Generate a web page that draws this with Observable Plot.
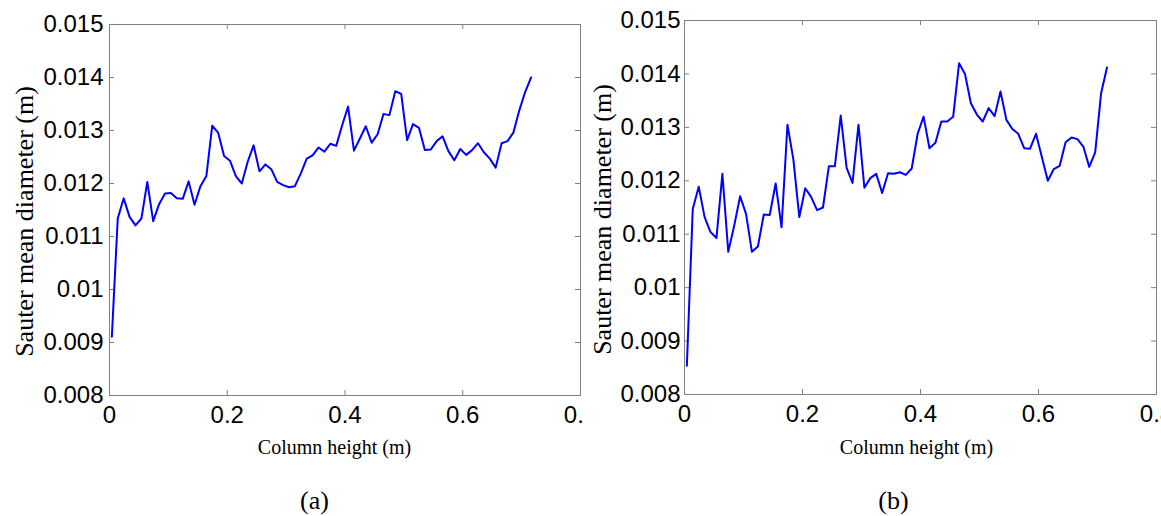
<!DOCTYPE html>
<html><head><meta charset="utf-8">
<script src="https://cdn.jsdelivr.net/npm/d3@7"></script>
<script src="https://cdn.jsdelivr.net/npm/@observablehq/plot@0.6"></script>
<style>
html,body{margin:0;padding:0;background:#fff;}
#wrap{display:flex;width:1161px;height:516px;overflow:hidden;background:#fff;}
#wrap svg{overflow:hidden;display:block;flex:none;max-width:none;}
</style></head><body><div id="wrap"></div>
<script>
// Column height (m) of each sample
const heights = [0.0040,0.0140,0.0241,0.0341,0.0441,0.0542,0.0642,0.0742,0.0842,0.0943,
0.1043,0.1143,0.1244,0.1344,0.1444,0.1545,0.1645,0.1745,0.1845,0.1946,
0.2046,0.2146,0.2247,0.2347,0.2447,0.2548,0.2648,0.2748,0.2848,0.2949,
0.3049,0.3149,0.3250,0.3350,0.3450,0.3551,0.3651,0.3751,0.3851,0.3952,
0.4052,0.4152,0.4253,0.4353,0.4453,0.4554,0.4654,0.4754,0.4854,0.4955,
0.5055,0.5155,0.5256,0.5356,0.5456,0.5557,0.5657,0.5757,0.5857,0.5958,
0.6058,0.6158,0.6259,0.6359,0.6459,0.6560,0.6660,0.6760,0.6860,0.6961,
0.7061,0.7161];
// Sauter mean diameter (m), panel (a)
const diameterA = [0.00911,0.01134,0.01172,0.01137,0.01121,0.01134,0.01203,0.01129,0.01161,0.01181,
0.01182,0.01172,0.01171,0.01204,0.01160,0.01195,0.01214,0.01309,0.01296,0.01252,
0.01243,0.01214,0.01200,0.01241,0.01272,0.01223,0.01236,0.01227,0.01203,0.01197,
0.01193,0.01195,0.01219,0.01247,0.01253,0.01268,0.01260,0.01275,0.01271,0.01310,
0.01345,0.01262,0.01285,0.01308,0.01277,0.01293,0.01331,0.01329,0.01374,0.01369,
0.01282,0.01312,0.01305,0.01263,0.01264,0.01280,0.01289,0.01261,0.01244,0.01265,
0.01254,0.01263,0.01276,0.01259,0.01247,0.01230,0.01276,0.01280,0.01296,0.01338,
0.01373,0.01400];
// Sauter mean diameter (m), panel (b)
const diameterB = [0.00854,0.01147,0.01189,0.01132,0.01104,0.01093,0.01213,0.01067,0.01116,0.01171,
0.01138,0.01067,0.01077,0.01137,0.01136,0.01195,0.01113,0.01305,0.01240,0.01132,
0.01186,0.01170,0.01145,0.01150,0.01227,0.01227,0.01322,0.01224,0.01196,0.01305,
0.01187,0.01205,0.01213,0.01177,0.01214,0.01213,0.01216,0.01211,0.01223,0.01288,
0.01320,0.01261,0.01271,0.01311,0.01311,0.01320,0.01420,0.01400,0.01345,0.01324,
0.01311,0.01336,0.01321,0.01367,0.01314,0.01297,0.01288,0.01261,0.01260,0.01288,
0.01244,0.01200,0.01222,0.01228,0.01272,0.01281,0.01278,0.01264,0.01226,0.01253,
0.01364,0.01412];

const xTicks = [0, 0.2, 0.4, 0.6, 0.8];
const xTickLabels = ["0", "0.2", "0.4", "0.6", "0.8"];
const yTicks = [0.008, 0.009, 0.010, 0.011, 0.012, 0.013, 0.014, 0.015];
const yTickLabels = ["0.008", "0.009", "0.01", "0.011", "0.012", "0.013", "0.014", "0.015"];
const yLabel = "Sauter mean diameter (m)";
const xLabel = "Column height (m)";
const captions = ["(a)", "(b)"];

const SERIF = "'Liberation Serif', 'Times New Roman', serif";
const SANS = "'Liberation Sans', Arial, sans-serif";
const GRAY = "#808080";

function panel(values, caption, c) {
  const H = 516;
  const plotW = c.width - c.ml - c.mr;
  const plotH = H - c.mt - c.mb;
  const svg = Plot.plot({
    width: c.width, height: H,
    marginLeft: c.ml, marginRight: c.mr, marginTop: c.mt, marginBottom: c.mb,
    style: {background: "white", color: "black", fontFamily: SANS, fontSize: "24px", overflow: "hidden"},
    x: {domain: [0, 0.8]},
    y: {domain: [0.008, 0.015]},
    marks: [
      Plot.frame({stroke: GRAY, strokeWidth: 1}),
      Plot.tickX(xTicks, {x: d => d, stroke: GRAY, insetTop: plotH - 5}),
      Plot.tickX(xTicks, {x: d => d, stroke: GRAY, insetBottom: plotH - 5}),
      Plot.tickY(yTicks, {y: d => d, stroke: GRAY, insetRight: plotW - 5}),
      Plot.tickY(yTicks, {y: d => d, stroke: GRAY, insetLeft: plotW - 5}),
      Plot.axisX({ticks: xTicks, tickFormat: d => xTickLabels[xTicks.indexOf(d)], tickSize: 0, tickPadding: 10, label: null, fontSize: 24}),
      Plot.axisY({ticks: yTicks, tickFormat: d => yTickLabels[yTicks.indexOf(d)], tickSize: 0, tickPadding: c.yPad, label: null, fontSize: 24}),
      Plot.line(values, {x: heights, y: d => d, stroke: "#0000ff", strokeWidth: 2}),
      Plot.text([yLabel], {text: d => d, frameAnchor: "left", rotate: -90, textAnchor: "middle", dx: c.ylDx, dy: c.ylDy, fontFamily: SERIF, fontSize: 26, ariaLabel: "ylabel"}),
      Plot.text([xLabel], {text: d => d, frameAnchor: "bottom", textAnchor: "middle", lineAnchor: "bottom", dx: c.xlDx, dy: c.xlDy, fontFamily: SERIF, fontSize: 20, ariaLabel: "xlabel"}),
      Plot.text([caption], {text: d => d, frameAnchor: "bottom", textAnchor: "middle", lineAnchor: "bottom", dx: c.capDx, dy: c.capDy, fontFamily: SERIF, fontSize: 26, ariaLabel: "caption"})
    ]
  });
  const addScale = (sel, s) => {
    svg.querySelectorAll(sel).forEach(t => {
      let tr = t.getAttribute("transform");
      if (!tr) {
        const x = t.getAttribute("x") || 0, y = t.getAttribute("y") || 0;
        t.removeAttribute("x"); t.removeAttribute("y");
        tr = `translate(${x},${y})`;
      }
      t.setAttribute("transform", tr + " " + s);
    });
  };
  addScale('g[aria-label="ylabel"] text', "scale(1,0.8)");
  addScale('g[aria-label="xlabel"] text', "scale(0.86,1)");
  return svg;
}

const wrap = document.getElementById("wrap");
wrap.appendChild(panel(diameterA, captions[0], {
  width: 584, ml: 109, mr: 4, mt: 24, mb: 121, yPad: 6,
  ylDx: -85, ylDy: 11.5, xlDx: -10.5, xlDy: 58, capDx: -30.5, capDy: 113
}));
wrap.appendChild(panel(diameterB, captions[1], {
  width: 577, ml: 100, mr: 5, mt: 20, mb: 122, yPad: 4,
  ylDx: -81.5, ylDy: 12, xlDx: -4, xlDy: 59, capDx: -27, capDy: 114
}));
</script></body></html>
